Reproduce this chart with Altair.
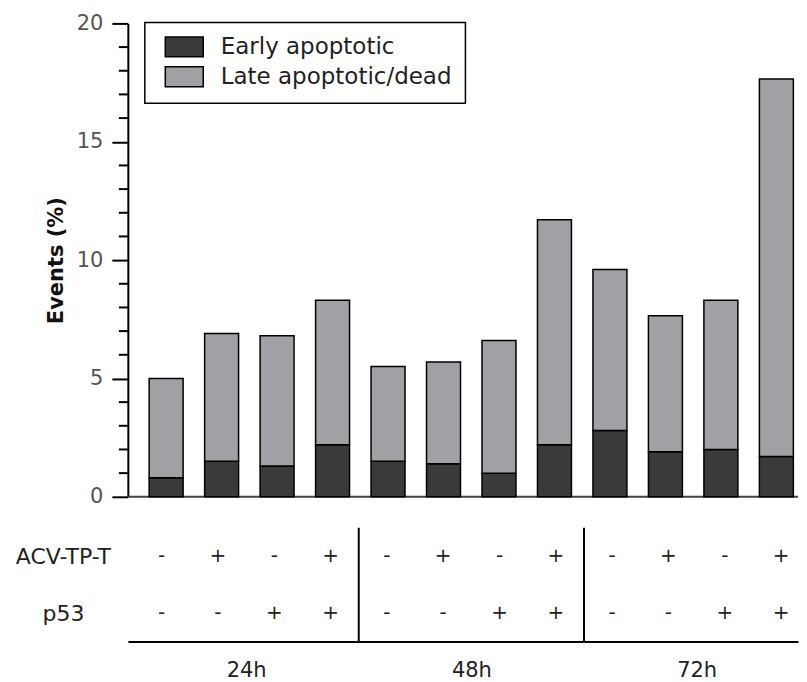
import altair as alt
import pandas as pd

# ---- data ----
series_names = ["Early apoptotic", "Late apoptotic/dead"]
early_values = [0.8, 1.5, 1.3, 2.2, 1.5, 1.4, 1.0, 2.2, 2.8, 1.9, 2.0, 1.7]
total_values = [5.0, 6.9, 6.8, 8.3, 5.5, 5.7, 6.6, 11.7, 9.6, 7.65, 8.3, 17.65]
acv_signs = ["-", "+", "-", "+", "-", "+", "-", "+", "-", "+", "-", "+"]
p53_signs = ["-", "-", "+", "+", "-", "-", "+", "+", "-", "-", "+", "+"]
row_names = ["ACV-TP-T", "p53"]
group_labels = ["24h", "48h", "72h"]
group_centers = [1.5, 5.5, 9.5]
group_separators = [3.5, 7.5]
major_ticks = [0, 5, 10, 15, 20]
minor_ticks = [1, 2, 3, 4, 6, 7, 8, 9, 11, 12, 13, 14, 16, 17, 18, 19]

FONT = "DejaVu Sans"
X_DOMAIN = [-0.6, 11.3]
W = 671

rows = []
for i, (e, t) in enumerate(zip(early_values, total_values)):
    rows.append({"idx": i, "series": series_names[0], "start": 0.0, "end": e})
    rows.append({"idx": i, "series": series_names[1], "start": e, "end": t})
bars_df = pd.DataFrame(rows)

signs = []
for i, (a, p) in enumerate(zip(acv_signs, p53_signs)):
    signs.append({"idx": i, "row": row_names[0], "sign": a})
    signs.append({"idx": i, "row": row_names[1], "sign": p})
signs_df = pd.DataFrame(signs)

xscale = alt.Scale(domain=X_DOMAIN, nice=False, zero=False)
yscale = alt.Scale(domain=[0, 20], nice=False)

bars = alt.Chart(bars_df).mark_bar(size=34, stroke="black", strokeWidth=1.5, opacity=1).encode(
    x=alt.X("idx:Q", scale=xscale, axis=None),
    y=alt.Y("start:Q", scale=yscale,
            axis=alt.Axis(title="Events (%)", values=major_ticks, tickSize=16, tickWidth=2,
                          tickColor="black", domainColor="black", domainWidth=2, grid=False,
                          labelFontSize=21, labelFont=FONT, labelColor="#555", labelPadding=9,
                          titleFontSize=21, titleFont=FONT, titleFontWeight="bold",
                          titleColor="#111", titlePadding=10)),
    y2="end:Q",
    color=alt.Color("series:N",
                    scale=alt.Scale(domain=series_names, range=["#3a3a3a", "#a1a1a5"]),
                    legend=alt.Legend(orient="none", legendX=17, legendY=-1, title=None,
                                      fillColor="white", strokeColor="black", padding=13,
                                      labelFontSize=23, labelFont=FONT, labelColor="#222",
                                      labelLimit=0,
                                      symbolType="M-1.9,-1H1.9V1H-1.9Z", symbolSize=400,
                                      symbolStrokeColor="black", symbolStrokeWidth=1.5,
                                      symbolOpacity=1, symbolOffset=15, labelOffset=25,
                                      rowPadding=3)),
)

baseline = alt.Chart(pd.DataFrame({"v": [0]})).mark_rule(color="#444", strokeWidth=2).encode(
    y=alt.Y("v:Q", scale=yscale),
)

minor = alt.Chart(pd.DataFrame({"v": minor_ticks})).mark_rule(color="black", strokeWidth=2).encode(
    y=alt.Y("v:Q", scale=yscale),
    x=alt.value(-9),
    x2=alt.value(0),
)

top = alt.layer(baseline, bars, minor).properties(width=W, height=474)

label_expr = " : ".join(
    f"datum.value < {c + 2} ? '{lab}'" for c, lab in zip(group_centers[:-1], group_labels[:-1])
) + f" : '{group_labels[-1]}'"

sign_text = alt.Chart(signs_df).mark_text(fontSize=20, font=FONT, color="#222").encode(
    x=alt.X("idx:Q", scale=xscale,
            axis=alt.Axis(title=None, values=group_centers, labelExpr=label_expr, ticks=False,
                          tickSize=0, grid=False, domain=True, domainColor="black",
                          domainWidth=2, labelFontSize=21, labelFont=FONT, labelColor="#222",
                          labelPadding=18)),
    y=alt.Y("row:N", sort=row_names, scale=alt.Scale(type="point", padding=0.5),
            axis=alt.Axis(title=None, domain=False, ticks=False, tickSize=0, grid=False,
                          labelAlign="center", labelPadding=65, labelFontSize=22,
                          labelFont=FONT, labelColor="#222")),
    text="sign:N",
)

seps = alt.Chart(pd.DataFrame({"x": group_separators})).mark_rule(color="black", strokeWidth=2).encode(
    x=alt.X("x:Q", scale=xscale),
)

bottom = alt.layer(sign_text, seps).properties(width=W, height=114)

chart = alt.vconcat(top, bottom, spacing=20).properties(
    padding={"left": 7, "top": 4, "right": 0, "bottom": 0}
).configure_view(stroke=None).configure_legend(strokeWidth=1.5)

chart.save("out.html", embed_options={"renderer": "svg", "actions": False})
